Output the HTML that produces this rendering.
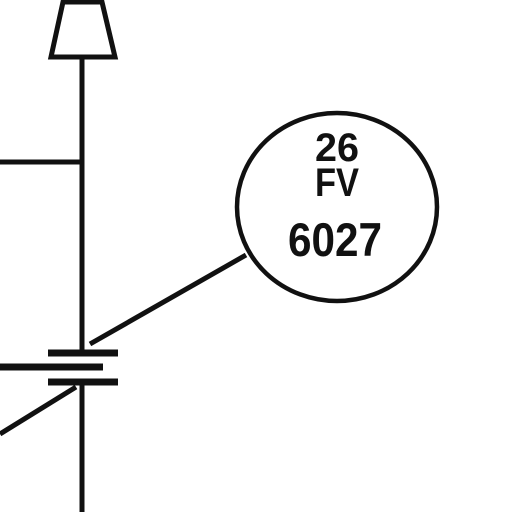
<!DOCTYPE html>
<html><head><meta charset="utf-8"><style>
html,body{margin:0;padding:0;background:#fff;width:512px;height:512px;overflow:hidden}
svg{display:block}
text{font-family:"Liberation Sans",sans-serif;font-weight:bold;fill:#111}
</style></head><body>
<svg width="512" height="512" viewBox="0 0 512 512">
<g stroke="#111" stroke-width="5" fill="none" stroke-linecap="butt">
<polygon points="63,2 102,2 115,57 51,57" stroke-width="5" fill="#fff"/>
<line x1="82" y1="57" x2="82" y2="354"/>
<line x1="0" y1="162" x2="82" y2="162"/>
<line x1="48" y1="353" x2="118" y2="353" stroke-width="7"/>
<line x1="0" y1="367" x2="103" y2="367" stroke-width="7"/>
<line x1="48" y1="382" x2="118" y2="382" stroke-width="7"/>
<line x1="82" y1="382" x2="82" y2="512"/>
<line x1="246" y1="255" x2="90" y2="344"/>
<line x1="0" y1="434" x2="76" y2="387"/>
<ellipse cx="337" cy="207" rx="100" ry="94" stroke-width="4.5"/>
</g>
<text x="337" y="161" text-anchor="middle" font-size="40" textLength="44" lengthAdjust="spacingAndGlyphs">26</text>
<text x="337" y="196" text-anchor="middle" font-size="40" textLength="44" lengthAdjust="spacingAndGlyphs">FV</text>
<text x="335" y="256" text-anchor="middle" font-size="47" textLength="94" lengthAdjust="spacingAndGlyphs">6027</text>
</svg>
</body></html>
